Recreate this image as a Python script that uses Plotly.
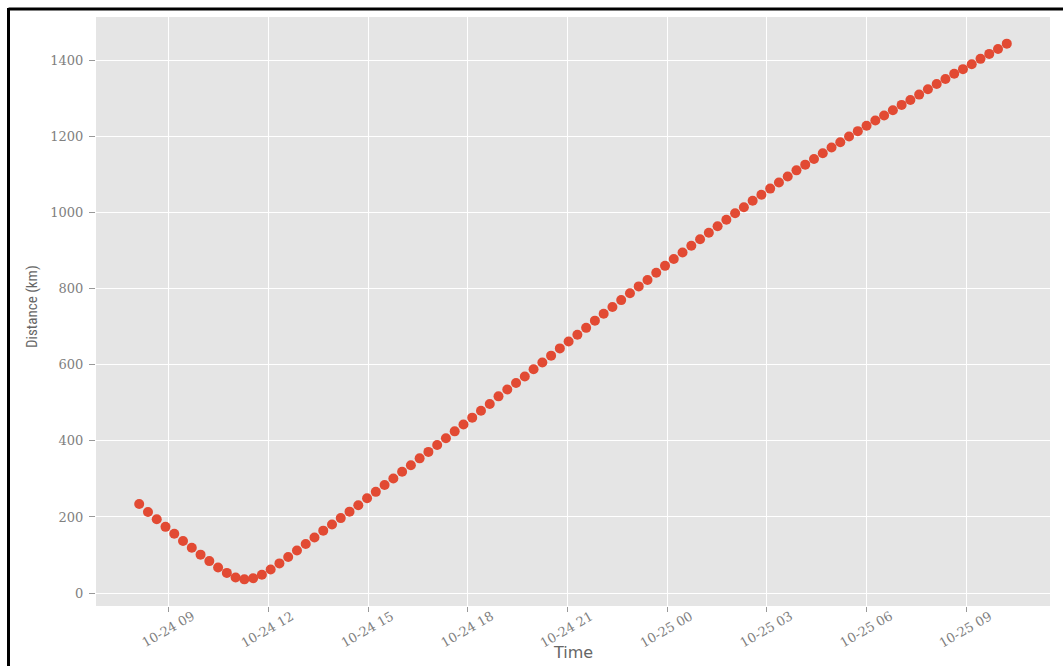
import pandas as pd
import plotly.graph_objects as go

# Distance samples (km), one every ~16 minutes
distance_km = [
    234, 213, 194, 174, 156, 137, 119, 101, 84, 67,
    53, 41, 36, 39, 48, 62, 78, 95, 112, 129,
    146, 164, 180, 197, 214, 231, 249, 266, 284, 301,
    319, 336, 354, 371, 389, 407, 425, 443, 461, 479,
    497, 517, 535, 552, 569, 588, 606, 624, 643, 661,
    679, 697, 716, 734, 752, 770, 788, 806, 823, 842,
    860, 878, 895, 913, 930, 947, 964, 981, 998, 1014,
    1031, 1047, 1063, 1079, 1095, 1111, 1126, 1141, 1156, 1171,
    1185, 1200, 1214, 1228, 1242, 1255, 1269, 1283, 1296, 1310,
    1324, 1338, 1351, 1365, 1377, 1390, 1404, 1417, 1430, 1444,
]
start_time = "2020-10-24 08:07"
end_time = "2020-10-25 10:13"
times = pd.date_range(start_time, end_time, periods=len(distance_km))

x_tick_times = [
    "2020-10-24 09:00", "2020-10-24 12:00", "2020-10-24 15:00",
    "2020-10-24 18:00", "2020-10-24 21:00", "2020-10-25 00:00",
    "2020-10-25 03:00", "2020-10-25 06:00", "2020-10-25 09:00",
]
x_tick_labels = [
    "10-24 09", "10-24 12", "10-24 15", "10-24 18", "10-24 21",
    "10-25 00", "10-25 03", "10-25 06", "10-25 09",
]
y_ticks = [0, 200, 400, 600, 800, 1000, 1200, 1400]

x_range = ["2020-10-24 06:49", "2020-10-25 11:31"]
y_range = [-34, 1514]

W, H = 1063, 666
L, R, T, B = 96, 13, 17, 60

fig = go.Figure(
    go.Scatter(
        x=times,
        y=distance_km,
        mode="markers",
        marker=dict(color="#E24A33", size=10, line=dict(width=0)),
    )
)

tick_color = "#808080"
serif = "DejaVu Serif"

fig.update_xaxes(
    range=x_range,
    tickvals=x_tick_times,
    showticklabels=False,
    ticks="outside",
    ticklen=5,
    tickcolor="#999",
    showgrid=True,
    gridcolor="white",
    gridwidth=1.2,
    zeroline=False,
    showline=False,
    automargin=False,
)
fig.update_yaxes(
    range=y_range,
    tickvals=y_ticks,
    tickfont=dict(family=serif, size=13, color=tick_color),
    ticks="outside",
    ticklen=6,
    tickcolor="#999",
    ticklabelstandoff=3,
    showgrid=True,
    gridcolor="white",
    gridwidth=1.2,
    zeroline=False,
    showline=False,
    automargin=False,
)


def px_x(p):
    return (p - L) / (W - L - R)


def px_y(p):
    return (H - B - p) / (H - T - B)


# rotated date labels centred under each tick
for t, lab in zip(x_tick_times, x_tick_labels):
    fig.add_annotation(
        x=t, y=px_y(629), xref="x", yref="paper",
        text=lab, textangle=-30, showarrow=False,
        xanchor="center", yanchor="middle", xshift=-1,
        font=dict(family=serif, size=13, color=tick_color),
    )

fig.add_annotation(
    x=0.5, y=px_y(652), xref="paper", yref="paper",
    text="Time", showarrow=False, xanchor="center", yanchor="middle",
    font=dict(family="DejaVu Sans", size=16, color="#666"),
)
fig.add_annotation(
    x=px_x(32), y=px_y(307), xref="paper", yref="paper",
    text="Distance (km)", textangle=-90, showarrow=False,
    xanchor="center", yanchor="middle",
    font=dict(family="Liberation Sans Narrow, Roboto Condensed, Roboto, sans-serif", size=15, color="#666"),
)

# black frame around the figure
frame = dict(type="line", xref="paper", yref="paper", line=dict(color="black", width=3))
fig.add_shape(**frame, x0=px_x(8.5), x1=px_x(8.5), y0=px_y(8), y1=px_y(680))
fig.add_shape(**frame, x0=px_x(8.5), x1=px_x(1070), y0=px_y(9), y1=px_y(9))

fig.update_layout(
    width=W,
    height=H,
    margin=dict(l=L, r=R, t=T, b=B),
    paper_bgcolor="white",
    plot_bgcolor="#E5E5E5",
    showlegend=False,
)

fig.write_html("out.html")
